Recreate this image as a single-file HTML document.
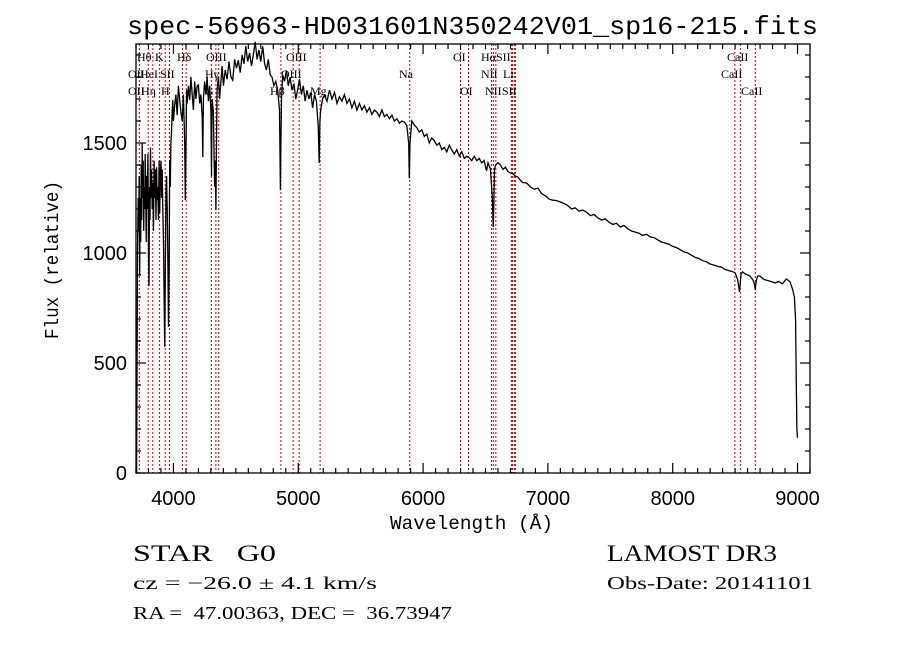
<!DOCTYPE html>
<html><head><meta charset="utf-8"><style>
html,body{margin:0;padding:0;background:#fff}
svg{display:block}
text{white-space:pre}
</style></head><body>
<svg id="chart" width="900" height="649" viewBox="0 0 900 649" xmlns="http://www.w3.org/2000/svg" xml:space="preserve">
<rect x="0" y="0" width="900" height="649" fill="#fff"/>
<text x="127" y="34" font-family="Liberation Mono, monospace" font-size="26" textLength="691" lengthAdjust="spacingAndGlyphs">spec-56963-HD031601N350242V01_sp16-215.fits</text>
<g id="lines"></g>
<g id="labels" font-family="Liberation Serif, serif" font-size="12"></g>
<path id="spec" fill="none" stroke="#000" stroke-width="1.3" stroke-linejoin="miter"/>
<rect x="136" y="44" width="674" height="429" fill="none" stroke="#000" stroke-width="1.3"/>
<g id="ticks" stroke="#000" stroke-width="1.2"></g>
<g id="ticklabels" font-family="Liberation Sans, sans-serif" font-size="20"></g>
<text x="390" y="529" font-family="Liberation Mono, monospace" font-size="19" textLength="163" lengthAdjust="spacingAndGlyphs">Wavelength (Å)</text>
<text transform="translate(58,339) rotate(-90)" font-family="Liberation Mono, monospace" font-size="19" textLength="158" lengthAdjust="spacingAndGlyphs">Flux (relative)</text>
<g font-family="Liberation Serif, serif" fill="#000">
<text x="133" y="561" font-size="23" textLength="143" lengthAdjust="spacingAndGlyphs">STAR   G0</text>
<text x="607" y="561" font-size="23" textLength="170" lengthAdjust="spacingAndGlyphs">LAMOST DR3</text>
<text x="133" y="589" font-size="18" textLength="244" lengthAdjust="spacingAndGlyphs">cz = −26.0 ± 4.1 km/s</text>
<text x="607" y="589" font-size="18" textLength="206" lengthAdjust="spacingAndGlyphs">Obs-Date: 20141101</text>
<text x="133" y="619" font-size="18" textLength="319" lengthAdjust="spacingAndGlyphs">RA =  47.00363, DEC =  36.73947</text>
</g>
</svg>
<script>
const wavelengths=[
3700,3705,3712,3718,3722,3726,3730,3734,3738,3742,
3746,3750,3754,3758,3762,3766,3770,3774,3778,3782,
3786,3790,3795,3800,3804,3808,3812,3816,3820,3825,
3830,3835,3840,3845,3850,3855,3860,3865,3870,3875,
3880,3885,3890,3895,3900,3905,3910,3915,3920,3925,
3930,3935,3940,3945,3950,3955,3960,3965,3970,3975,
3980,3985,3990,3995,4000,4010,4020,4030,4040,4050,
4060,4070,4080,4090,4095,4100,4105,4110,4120,4130,
4140,4150,4160,4170,4180,4190,4200,4210,4220,4230,
4235,4240,4250,4260,4270,4280,4290,4300,4305,4310,
4320,4330,4335,4340,4345,4350,4360,4370,4380,4390,
4400,4415,4430,4445,4460,4475,4490,4505,4520,4535,
4550,4565,4580,4595,4610,4625,4640,4655,4670,4685,
4700,4715,4730,4745,4760,4775,4790,4805,4820,4835,
4850,4857,4861,4866,4875,4890,4905,4920,4935,4950,
4965,4980,4995,5010,5025,5040,5055,5070,5085,5100,
5115,5130,5145,5160,5168,5173,5180,5195,5210,5230,
5250,5270,5290,5310,5330,5350,5370,5390,5410,5430,
5450,5470,5490,5510,5530,5550,5570,5590,5610,5630,
5650,5670,5690,5710,5730,5750,5770,5790,5810,5830,
5850,5870,5885,5890,5895,5910,5930,5950,5970,5990,
6010,6030,6050,6070,6090,6110,6130,6150,6170,6190,
6210,6230,6250,6270,6290,6310,6330,6350,6370,6390,
6410,6430,6450,6470,6490,6505,6510,6520,6540,6555,
6560,6563,6566,6572,6580,6600,6620,6640,6660,6680,
6700,6720,6740,6760,6780,6800,6830,6860,6890,6920,
6950,6980,7010,7040,7070,7100,7130,7160,7190,7220,
7250,7280,7310,7340,7370,7400,7430,7460,7490,7520,
7550,7580,7610,7640,7670,7700,7730,7760,7790,7820,
7850,7880,7910,7940,7970,8000,8030,8060,8090,8120,
8150,8180,8210,8240,8270,8300,8330,8360,8390,8420,
8450,8480,8500,8520,8535,8542,8548,8560,8580,8600,
8620,8640,8655,8662,8668,8680,8700,8730,8760,8790,
8820,8850,8880,8910,8940,8960,8975,8985,8990,8995,
9000];
const fluxes=[
0,0,1000,1250,1100,1350,900,1250,1050,1400,
1150,1500,1250,1420,1100,1300,1200,1450,1280,1050,
1350,1200,1450,1000,850,1300,1150,1480,1250,1380,
1200,1320,1100,1420,1250,1380,1150,1390,1240,1300,
1150,1420,1180,1350,1420,1250,1380,1200,1050,800,
573,900,1286,1350,1200,1000,664,900,1423,1300,
1500,1560,1650,1695,1600,1673,1720,1627,1760,1695,
1640,1600,1720,1500,1241,1450,1741,1680,1760,1695,
1800,1720,1650,1780,1700,1760,1764,1680,1720,1620,
1436,1700,1780,1720,1800,1690,1760,1650,1350,1700,
1640,1300,1420,1195,1500,1741,1800,1700,1780,1850,
1760,1832,1790,1870,1800,1786,1880,1840,1877,1820,
1900,1860,1940,1870,1910,1850,1900,1960,1880,1923,
1870,1940,1860,1832,1880,1810,1800,1760,1780,1740,
1650,1286,1500,1700,1809,1780,1830,1760,1800,1740,
1770,1700,1741,1790,1720,1760,1690,1740,1700,1730,
1660,1720,1690,1580,1409,1600,1650,1700,1718,1690,
1740,1700,1730,1680,1710,1690,1720,1680,1700,1660,
1690,1650,1680,1650,1670,1640,1660,1630,1650,1640,
1620,1650,1620,1630,1610,1627,1600,1610,1590,1600,
1595,1580,1500,1340,1500,1600,1582,1570,1550,1560,
1530,1540,1500,1523,1510,1490,1500,1470,1480,1460,
1490,1468,1450,1470,1440,1460,1430,1440,1432,1420,
1440,1420,1430,1410,1420,1380,1377,1410,1380,1250,
1150,1118,1200,1380,1400,1410,1400,1380,1390,1370,
1364,1360,1350,1345,1330,1320,1318,1300,1290,1295,
1270,1260,1245,1240,1238,1232,1225,1215,1200,1205,
1190,1195,1186,1170,1175,1160,1150,1155,1140,1130,
1135,1118,1125,1110,1100,1095,1090,1080,1085,1073,
1070,1060,1050,1045,1040,1030,1025,1015,1005,1000,
990,980,975,965,960,950,945,940,936,925,
920,915,910,880,823,870,905,914,905,900,
895,880,860,832,870,895,895,880,875,870,
864,870,860,882,870,836,800,695,400,200,
160];

const X0=136,X1=810,W0=3700,W1=9100,Y0=473,Y1=44,F0=0,F1=1950;
function xs(w){return X0+(w-W0)/(W1-W0)*(X1-X0);}
function ys(f){return Y0-(f-F0)/(F1-F0)*(Y0-Y1);}
const NS='http://www.w3.org/2000/svg';

let d='';
const n=Math.min(wavelengths.length,fluxes.length);
for(let i=0;i<n;i++){d+=(i?'L':'M')+xs(wavelengths[i]).toFixed(1)+' '+ys(fluxes[i]).toFixed(1);}
document.getElementById('spec').setAttribute('d',d);

const lineWaves=[3727,3798,3835,3889,3934,3968,4072,4102,4304,4340,4363,4861,4959,5007,5175,5893,6300,6364,6548,6563,6583,6708,6717,6731,6740,8498,8542,8662];
const lg=document.getElementById('lines');
lineWaves.forEach(w=>{
  const l=document.createElementNS(NS,'line');
  
  
  l.setAttribute('x1',xs(w));l.setAttribute('x2',xs(w));
  l.setAttribute('y1',Y1);l.setAttribute('y2',Y0);
  l.setAttribute('stroke','#c00000');l.setAttribute('stroke-width','1');
  l.setAttribute('stroke-dasharray','2,2');
  lg.appendChild(l);
});

const labelTexts=['Hθ','K','Hδ','OIII','OIII','OI','HαSII','CaII','OII','HeI','SII','Hγ','OIII','Na','NII','Li','CaII','OII','Hη','H','G','Hβ','Mg','OI','NII','SII','CaII'];
const labelX=[137,155,177,206,286,453,481,727,128,140,160,205,281,399,481,503,721,128,141,161,205,270,310,460,485,502,741];
const labelRow=[0,0,0,0,0,0,0,0,1,1,1,1,1,1,1,1,1,2,2,2,2,2,2,2,2,2,2];
const lab=document.getElementById('labels');
labelTexts.forEach((t,i)=>{
  const e=document.createElementNS(NS,'text');
  
  
  e.setAttribute('x',labelX[i]);e.setAttribute('y',61+labelRow[i]*17);
  e.textContent=t;lab.appendChild(e);
});

const xTicks=[4000,5000,6000,7000,8000,9000];
const yTicks=[0,500,1000,1500];
const tg=document.getElementById('ticks'),tl=document.getElementById('ticklabels');
function tick(x1,y1,x2,y2){const l=document.createElementNS(NS,'line');
  
  
  l.setAttribute('x1',x1);l.setAttribute('y1',y1);l.setAttribute('x2',x2);l.setAttribute('y2',y2);tg.appendChild(l);}
for(let w=3700;w<=9100;w+=100){const x=xs(w);const major=w%1000===0;const L=major?10:5;tick(x,Y0,x,Y0-L);tick(x,Y1,x,Y1+L);}
for(let f=0;f<=1900;f+=100){const y=ys(f);const major=f%500===0;const L=major?10:5;tick(X0,y,X0+L,y);tick(X1,y,X1-L,y);}
xTicks.forEach(w=>{const e=document.createElementNS(NS,'text');
  
  
  e.setAttribute('x',xs(w));e.setAttribute('y',505);e.setAttribute('text-anchor','middle');e.textContent=w;tl.appendChild(e);});
yTicks.forEach(f=>{const e=document.createElementNS(NS,'text');
  
  
  e.setAttribute('x',127);e.setAttribute('y',ys(f)+7);e.setAttribute('text-anchor','end');e.textContent=f;tl.appendChild(e);});
</script>
</body></html>
